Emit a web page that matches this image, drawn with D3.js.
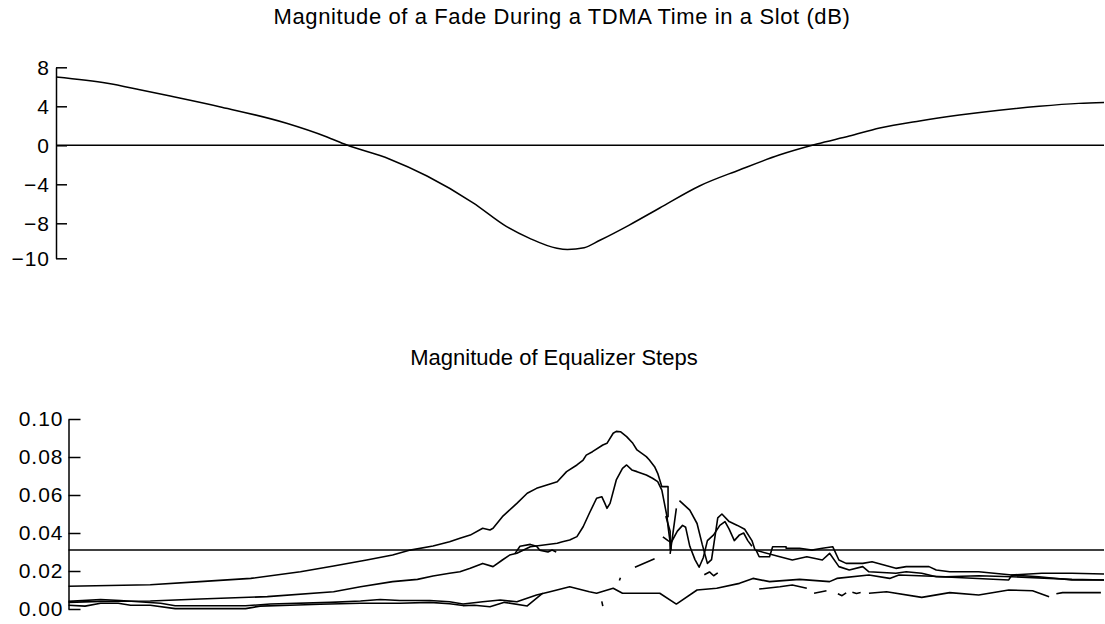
<!DOCTYPE html>
<html>
<head>
<meta charset="utf-8">
<script src="https://cdn.jsdelivr.net/npm/d3@7"></script>
<style>
  html, body { margin: 0; padding: 0; background: #fff; }
  svg { display: block; font-family: "Liberation Sans", Arial, Helvetica, sans-serif; }
</style>
</head>
<body>
<svg id="chart" width="1105" height="624"></svg>
<script>
// ---- Fade magnitude over the slot (percent of slot, dB) ----
const fadeTicks = [8, 4, 0, -4, -8, -10];
const fadeDb = [
  [0, 7.0], [4.9, 6.36], [8.0, 5.7], [10.9, 5.05], [15.6, 3.96], [22.0, 2.26],
  [25.8, 0.88], [27.7, 0.05], [31.8, -1.4], [35.4, -3.15], [39.8, -5.9],
  [43.0, -8.19], [45.2, -8.86], [47.8, -9.43], [48.8, -9.5], [50.4, -9.4],
  [51.9, -8.97], [54.7, -8.1], [57.6, -6.43], [61.4, -4.17], [65.2, -2.53],
  [69.0, -1.0], [72.6, 0.13], [75.7, 0.95], [78.6, 1.77], [82.4, 2.5],
  [86.2, 3.1], [90.0, 3.6], [93.8, 4.0], [97.6, 4.3], [100, 4.4]
];
const fadeReference = 0;

// ---- Equalizer step magnitudes (percent of slot, step size) ----
const stepTicks = [0, 0.02, 0.04, 0.06, 0.08, 0.10];
const stepReference = 0.031;

const stepA = [
  [0, .012], [7.9, .0128], [12.7, .0144], [17.6, .0161], [22.4, .0196], [25.6, .0226],
  [28.8, .0258], [31.3, .0284], [33.0, .031], [35.2, .0332], [36.8, .0354], [37.8, .0372],
  [38.8, .0389], [40.0, .0425], [40.7, .0416], [41.0, .0425], [41.9, .0486], [43.3, .0556],
  [44.3, .0609], [45.2, .0635], [46.2, .0653], [47.2, .067], [48.1, .0723], [49.1, .0758],
  [49.7, .0784], [50.0, .081], [50.6, .0828], [51.6, .0863], [52.0, .0872], [52.6, .0925],
  [52.9, .0935], [53.3, .0933], [53.9, .0907], [54.5, .0872], [54.9, .0837], [55.8, .0802],
  [56.1, .0784], [56.6, .0749], [56.9, .0714], [57.3, .0644], [57.9, .0644], [57.9, .0486],
  [57.7, .0486], [58.1, .041], [58.1, .031]
];
const stepB = [
  [0, .0035], [3.1, .004], [7.9, .0042], [12.7, .0053], [19.2, .0065], [25.6, .0091],
  [28.2, .0117], [31.3, .0144], [33.7, .0156], [35.2, .0174], [36.8, .0188], [37.8, .0196],
  [38.8, .0214], [40.0, .024], [41.0, .0223], [41.9, .0258], [42.6, .0284], [43.3, .0293],
  [44.6, .0328], [47.2, .0346], [47.7, .0354], [48.4, .0363], [49.1, .0381], [49.7, .0433],
  [50.3, .0504], [51.0, .0583], [51.5, .0591], [51.8, .0556], [52.0, .053], [52.3, .0556],
  [52.9, .0679], [53.5, .074], [53.9, .0758], [54.4, .0732], [54.9, .0723], [55.8, .0705],
  [56.4, .0688], [56.9, .067], [57.3, .0626], [57.8, .0486], [57.9, .0433], [58.2, .031]
];
const stepC = [
  [0, .004], [3.1, .005], [5.0, .0045], [8.9, .003], [10.3, .0017], [17.1, .0017],
  [19.5, .0026], [25.3, .0035], [28.2, .0042], [30.1, .005], [32.0, .0045], [34.9, .0045],
  [36.8, .0038], [38.1, .0026], [40.0, .0038], [41.7, .0047], [43.3, .0038], [45.2, .0074],
  [46.5, .0091], [48.4, .0117], [50.3, .0091], [51.0, .0083], [52.6, .0109], [53.5, .0083],
  [57.1, .0083], [58.7, .0026], [60.7, .01], [62.6, .0109], [64.8, .0135], [66.1, .0161],
  [67.7, .0144], [70.6, .0156], [73.5, .0144], [74.2, .0161], [77.3, .0179], [79.3, .0161],
  [80.2, .0179], [84.7, .017], [87.9, .0175], [91.1, .017], [96.9, .0156], [100, .0153]
];
const stepD = [
  [0, .002], [1.6, .0015], [3.1, .003], [4.8, .003], [6.0, .002], [7.9, .002],
  [10.3, .0002], [17.1, .0002], [18.5, .0015], [21.4, .002], [24.3, .0025], [28.2, .003],
  [32.0, .003], [34.9, .0035], [36.8, .0028], [38.1, .0018], [39.2, .002], [40.7, .0012],
  [42.1, .0035], [44.3, .0016], [45.8, .0083], null,
  [66.7, .0105], [68.7, .0117], [69.9, .0126], [71.3, .0109], null,
  [72.0, .0083], [73.2, .0096], null,
  [74.3, .008], [74.7, .007], [75.1, .0085], null,
  [75.7, .0088], [76.1, .0082], [76.5, .0087], null,
  [77.3, .0083], [79.0, .0091], [82.4, .0061], [85.1, .0086], [87.9, .0074], [90.8, .01],
  [93.1, .0096], [94.7, .0065], null,
  [95.4, .008], [96.0, .0086], [99.7, .0086]
];
const stepE = [
  [43.1, .029], [43.6, .033], [44.6, .034], [45.2, .033], [45.5, .031], [46.3, .03],
  [46.7, .031], [47.1, .03], null,
  [66.4, .031], [66.7, .0275], [67.7, .0275], [68.0, .0328], [69.3, .0328], [69.3, .032],
  [70.6, .032], [71.8, .031], [72.8, .032], [73.8, .0328], [74.4, .0258], [75.1, .024],
  [76.7, .024], [77.6, .0249], [79.9, .0214], [80.9, .0223], [83.1, .0223], [83.8, .0205],
  [85.1, .0196], [87.9, .0196], [91.1, .0179], [94.0, .0188], [96.9, .0188], [100, .0184]
];
const stepF = [
  [66.3, .031], [68.7, .0275], [69.9, .0258], [71.3, .0275], [72.8, .0258], [73.5, .0293],
  [74.4, .0223], [75.4, .0205], [76.7, .0223], [77.3, .0196], [79.9, .0188], [80.9, .0196],
  [82.4, .0188], [83.8, .017], [85.3, .0167], [90.8, .0153], [91.1, .0179], [93.7, .017],
  [96.9, .0153], [100, .0153]
];
const stepG = [
  [59.0, .057], [60.0, .052], [60.7, .045], [61.2, .034], [61.7, .024], [62.1, .026],
  [62.7, .048], [63.1, .050], [63.8, .046], [64.6, .044], [65.3, .042], [66.0, .036],
  [66.3, .031]
];
const stepH = [
  [57.4, .038], [57.9, .036], [58.2, .035], [58.8, .041], [59.3, .044], [59.6, .043],
  [60.0, .033], [60.5, .026], [60.9, .022], [61.3, .027], [61.7, .036], [62.3, .039],
  [62.9, .044], [63.4, .046], [63.8, .042], [64.3, .036], [64.8, .039], [65.2, .040],
  [65.6, .036], [66.0, .033]
];
const stepFragments = [
  [58.1, .029], [58.7, .053], null,
  [54.7, .022], [56.6, .0265], null,
  [61.4, .018], [61.9, .0195], [62.3, .0175], [62.7, .019], null,
  [51.5, .004], [51.6, .0015], null,
  [53.2, .015], [53.3, .0165]
];

const titles = [
  "Magnitude of a Fade During a TDMA Time in a Slot (dB)",
  "Magnitude of Equalizer Steps"
];

// ---- drawing ----
const svg = d3.select("#chart");
const ink = "#000";

function styleAxis(g) {
  g.select(".domain").attr("stroke", ink).attr("stroke-width", 1.5);
  g.selectAll(".tick line").attr("stroke", ink).attr("stroke-width", 1.5);
  g.selectAll(".tick text")
    .attr("fill", ink)
    .attr("font-size", 21)
    .attr("letter-spacing", "1px")
    .attr("font-family", "\"Liberation Sans\", Arial, sans-serif");
}

// Top panel: fade in dB
const xTop = d3.scaleLinear().domain([0, 100]).range([56, 1104]);
const yTop = d3.scaleLinear().domain([-10, -8, 8]).range([258.3, 223.3, 67.3]);

svg.append("text")
  .attr("x", 562).attr("y", 24)
  .attr("text-anchor", "middle")
  .attr("font-size", 22)
  .attr("letter-spacing", "0.6px")
  .attr("fill", ink)
  .text(titles[0]);

const gTopAxis = svg.append("g")
  .attr("transform", `translate(${xTop(0)},0)`)
  .call(d3.axisLeft(yTop).tickValues(fadeTicks).tickFormat(d3.format("d"))
    .tickSize(-11).tickSizeOuter(0).tickPadding(6));
styleAxis(gTopAxis);

svg.append("path")
  .datum([[0, fadeReference], [100, fadeReference]])
  .attr("fill", "none").attr("stroke", ink).attr("stroke-width", 1.4)
  .attr("d", d3.line().x(d => xTop(d[0])).y(d => yTop(d[1])));

svg.append("path")
  .datum(fadeDb)
  .attr("fill", "none").attr("stroke", ink).attr("stroke-width", 1.5)
  .attr("d", d3.line().curve(d3.curveMonotoneX).x(d => xTop(d[0])).y(d => yTop(d[1])));

// Bottom panel: equalizer step magnitudes
const xBot = d3.scaleLinear().domain([0, 100]).range([68.5, 1104]);
const yBot = d3.scaleLinear().domain([0, 0.10]).range([609, 419]);

svg.append("text")
  .attr("x", 554).attr("y", 365)
  .attr("text-anchor", "middle")
  .attr("font-size", 22)
  .attr("fill", ink)
  .text(titles[1]);

const gBotAxis = svg.append("g")
  .attr("transform", `translate(${xBot(0)},0)`)
  .call(d3.axisLeft(yBot).tickValues(stepTicks).tickFormat(d3.format(".2f"))
    .tickSize(-12).tickSizeOuter(0).tickPadding(5));
styleAxis(gBotAxis);

svg.append("path")
  .datum([[0, stepReference], [100, stepReference]])
  .attr("fill", "none").attr("stroke", ink).attr("stroke-width", 1.5)
  .attr("d", d3.line().x(d => xBot(d[0])).y(d => yBot(d[1])));

const stepLine = d3.line()
  .defined(d => d !== null)
  .x(d => xBot(d[0]))
  .y(d => yBot(d[1]));

[stepA, stepB, stepC, stepD, stepE, stepF, stepG, stepH, stepFragments].forEach(series => {
  svg.append("path")
    .datum(series)
    .attr("fill", "none")
    .attr("stroke", ink)
    .attr("stroke-width", 1.6)
    .attr("stroke-linejoin", "round")
    .attr("d", stepLine);
});
</script>
</body>
</html>
